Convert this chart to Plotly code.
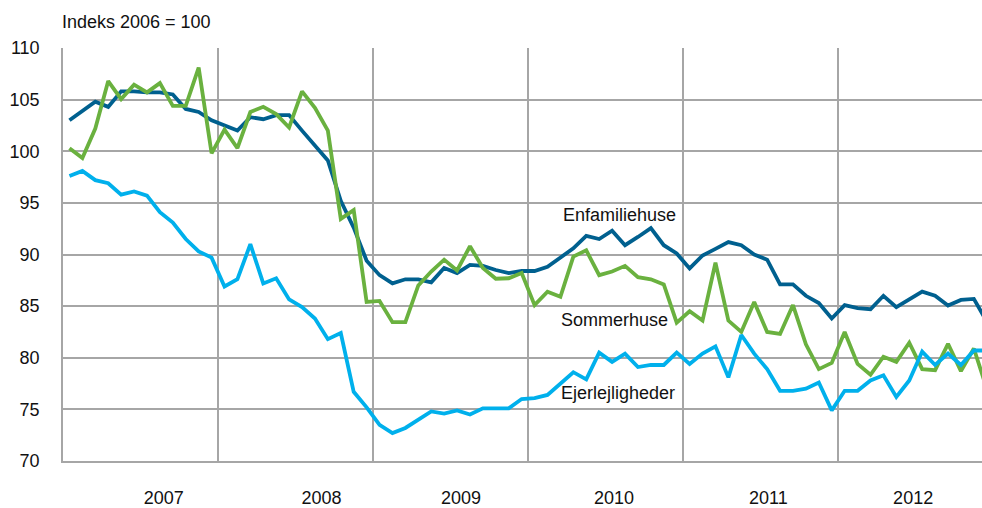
import plotly.graph_objects as go

# Monthly index values, Jan 2007 - Dec 2012 (index 2006 = 100)
enfamiliehuse = [103.0, 103.9, 104.8, 104.3, 105.8, 105.8, 105.7, 105.7, 105.5, 104.1, 103.8, 103.0,
                 102.5, 102.0, 103.3, 103.1, 103.5, 103.5, 102.0, 100.5, 99.1, 95.2, 92.6, 89.4,
                 88.0, 87.2, 87.6, 87.6, 87.3, 88.7, 88.2, 89.0, 88.9, 88.5, 88.2, 88.4,
                 88.4, 88.8, 89.7, 90.6, 91.8, 91.5, 92.3, 90.9, 91.7, 92.55, 90.9, 90.1,
                 88.65, 89.9, 90.55, 91.2, 90.9, 90.0, 89.5, 87.1, 87.1, 86.0, 85.3, 83.8,
                 85.1, 84.8, 84.7, 86.0, 84.9, 85.6, 86.4, 86.0, 85.05, 85.6, 85.7, 83.5]
sommerhuse = [100.3, 99.35, 102.2, 106.8, 105.05, 106.45, 105.7, 106.6, 104.4, 104.4, 108.1, 99.8,
              102.1, 100.3, 103.8, 104.3, 103.6, 102.3, 105.8, 104.2, 102.0, 93.45, 94.3, 85.4,
              85.5, 83.45, 83.45, 87.0, 88.35, 89.5, 88.45, 90.8, 88.7, 87.65, 87.7, 88.2,
              85.1, 86.4, 85.9, 89.8, 90.4, 88.0, 88.35, 88.9, 87.8, 87.6, 87.1, 83.4,
              84.5, 83.6, 89.2, 83.6, 82.5, 85.4, 82.5, 82.3, 85.1, 81.3, 78.9, 79.5,
              82.5, 79.4, 78.35, 80.1, 79.6, 81.45, 78.9, 78.8, 81.35, 78.7, 80.9, 77.0]
ejerlejligheder = [97.6, 98.1, 97.2, 96.9, 95.8, 96.1, 95.7, 94.1, 93.1, 91.5, 90.3, 89.7,
                   86.9, 87.6, 91.0, 87.2, 87.7, 85.65, 84.9, 83.8, 81.8, 82.4, 76.7, 75.2,
                   73.5, 72.7, 73.2, 74.0, 74.8, 74.6, 74.9, 74.5, 75.1, 75.1, 75.1, 76.0,
                   76.1, 76.4, 77.5, 78.6, 77.9, 80.5, 79.6, 80.4, 79.1, 79.3, 79.3, 80.5,
                   79.4, 80.4, 81.1, 78.1, 82.2, 80.4, 78.9, 76.8, 76.8, 77.0, 77.6, 74.9,
                   76.8, 76.8, 77.8, 78.3, 76.2, 77.8, 80.6, 79.3, 80.4, 79.3, 80.7, 80.7]

years = ["2007", "2008", "2009", "2010", "2011", "2012"]
year_label_pos = [7.3, 19.5, 30.3, 42.15, 54.1, 65.3]
series_names = ["Enfamiliehuse", "Sommerhuse", "Ejerlejligheder"]
series_colors = ["#00608f", "#6ab13f", "#00b0ec"]

months = list(range(len(enfamiliehuse)))
FONT = "Liberation Sans, Arial, sans-serif"
GRID = "#a6a6a6"

fig = go.Figure()
for name, vals, col in zip(series_names, [enfamiliehuse, sommerhuse, ejerlejligheder], series_colors):
    fig.add_trace(go.Scatter(x=months, y=vals, mode="lines", name=name,
                             line=dict(color=col, width=3.8), showlegend=False))

# series labels
label_pos = [(42.57, 93.8), (42.18, 83.66), (42.46, 76.54)]
for name, (lx, ly) in zip(series_names, label_pos):
    fig.add_annotation(x=lx, y=ly, text=name, showarrow=False, xanchor="center", yanchor="middle",
                       font=dict(family=FONT, size=18, color="#111111"))

fig.add_annotation(xref="paper", yref="paper", x=-0.0035, y=1.062, text="Indeks 2006 = 100",
                   showarrow=False, xanchor="left", yanchor="middle",
                   font=dict(family=FONT, size=18, color="#111111"))

year_bounds = [12 * k - 0.5 for k in range(1, len(years))]

fig.update_layout(
    width=982, height=508,
    margin=dict(l=63, r=0, t=48, b=47),
    paper_bgcolor="white", plot_bgcolor="white",
    font=dict(family=FONT, size=18, color="#111111"),
    xaxis=dict(range=[-0.5, 70.63], tickmode="array", tickvals=year_label_pos, ticktext=years,
               showgrid=False, zeroline=False, showline=True, linecolor=GRID, linewidth=1.5,
               ticks="", ticklabelstandoff=20,
               minor=dict(tickmode="array", tickvals=year_bounds, showgrid=True,
                          gridcolor=GRID, gridwidth=1.5, ticks="")),
    yaxis=dict(range=[70, 110], tickmode="linear", tick0=70, dtick=5,
               showgrid=True, gridcolor=GRID, gridwidth=1.5, zeroline=False,
               showline=True, linecolor=GRID, linewidth=1.5, ticks="", ticklabelstandoff=18),
)

fig.write_html("out.html", config={"displayModeBar": False},
               post_script="document.body.style.margin='0';document.body.style.overflow='hidden';")
